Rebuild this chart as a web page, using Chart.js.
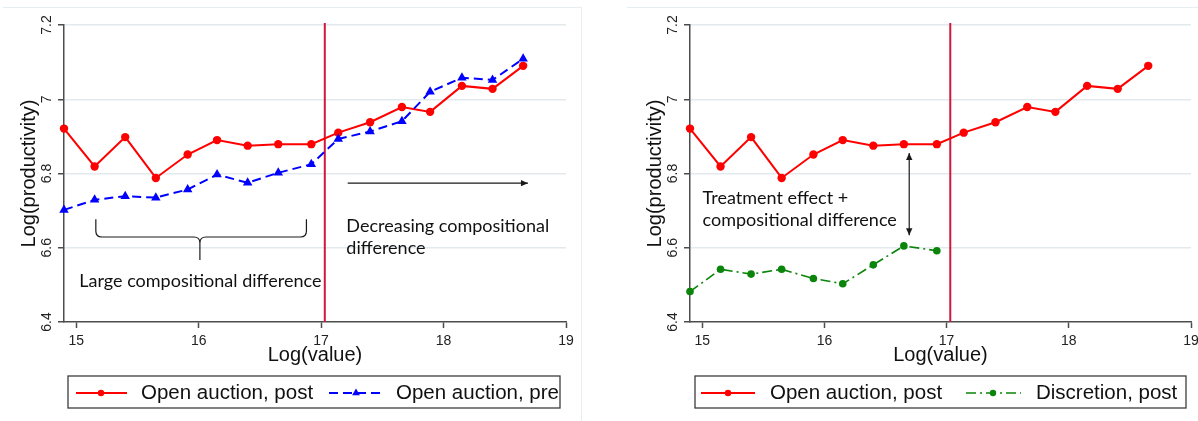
<!DOCTYPE html>
<html>
<head>
<meta charset="utf-8">
<script src="https://cdn.jsdelivr.net/npm/chart.js@4.4.1/dist/chart.umd.min.js"></script>
<style>
  html, body { margin: 0; padding: 0; background: #fff; overflow: hidden; }
  #wrap { position: relative; width: 1198px; height: 421px; }
  canvas { position: absolute; top: 0; }
  #leftChart { left: 0; }
  #rightChart { left: 626px; }
  .frame { position: absolute; border: 0 solid #e6eef1; }
</style>
</head>
<body>
<div id="wrap">
  <div class="frame" style="left:3px;top:7px;width:578px;height:414px;border-top-width:1px;border-right-width:1px"></div>
  <div class="frame" style="left:627px;top:7px;width:571px;height:0;border-top-width:1px"></div>
  <canvas id="leftChart" width="600" height="421"></canvas>
  <canvas id="rightChart" width="572" height="421"></canvas>
</div>
<script>
// Bin midpoints on the Log(value) axis
const binCenters = [14.90, 15.15, 15.40, 15.65, 15.91, 16.15, 16.40, 16.65, 16.92,
                    17.14, 17.40, 17.66, 17.89, 18.15, 18.40, 18.65];
// Mean Log(productivity) per bin
const openAuctionPost = [6.921, 6.819, 6.898, 6.788, 6.851, 6.890, 6.875, 6.879, 6.879,
                         6.910, 6.938, 6.979, 6.966, 7.036, 7.028, 7.090];
const openAuctionPre  = [6.702, 6.729, 6.739, 6.735, 6.757, 6.797, 6.775, 6.802, 6.825,
                         6.893, 6.913, 6.941, 7.020, 7.058, 7.052, 7.109];
const discretionPost  = [6.482, 6.542, 6.529, 6.542, 6.517, 6.503, 6.554, 6.605, 6.592];

const xTicks = [15, 16, 17, 18, 19];
const xTickLabels = ['15', '16', '17', '18', '19'];
const yTicks = [6.4, 6.6, 6.8, 7, 7.2];
const yTickLabels = ['6.4', '6.6', '6.8', '7', '7.2'];
const thresholdLine = [17.03];

const FONT = "'Liberation Sans', Arial, sans-serif";
const NOTE_FONT = "Lato, 'Open Sans', sans-serif";
const AXIS = '#4d4d4d';

Chart.defaults.font.family = FONT;
Chart.defaults.color = '#222';

function points(ys) {
  return ys.map((y, i) => ({ x: binCenters[i], y }));
}

const styles = {
  post: { label: 'Open auction, post', borderColor: '#ff0000', backgroundColor: '#ff0000',
          borderWidth: 2, pointStyle: 'circle', pointRadius: 4.2, pointBorderWidth: 0, borderDash: [] },
  pre:  { label: 'Open auction, pre', borderColor: '#0000ff', backgroundColor: '#0000ff',
          borderWidth: 2, pointStyle: 'triangle', pointRadius: 5.5, pointBorderWidth: 0, borderDash: [9, 5] },
  disc: { label: 'Discretion, post', borderColor: '#0a840a', backgroundColor: '#0a840a',
          borderWidth: 1.6, pointStyle: 'circle', pointRadius: 3.8, pointBorderWidth: 0, borderDash: [10, 4, 2, 4] }
};

function dataset(style, ys, order) {
  return Object.assign({}, style, {
    data: points(ys), order, tension: 0, fill: false, clip: false,
    pointHoverRadius: style.pointRadius
  });
}

function makeScales() {
  return {
    x: {
      type: 'linear', min: 14.9, max: 19,
      afterBuildTicks: s => { s.ticks = xTicks.map(v => ({ value: v })); },
      ticks: {
        autoSkip: false, maxRotation: 0, minRotation: 0, padding: 5,
        font: { size: 14 }, color: '#222',
        callback: v => xTickLabels[xTicks.indexOf(v)]
      },
      grid: { drawOnChartArea: false, drawTicks: true, tickLength: 6, tickColor: AXIS, tickWidth: 1.5 },
      border: { display: true, color: AXIS, width: 1.5 },
      title: { display: true, text: 'Log(value)', font: { size: 20 }, color: '#111',
               padding: { top: 0, bottom: 54 } },
      afterFit: s => { s.height = 99; s.paddingLeft = 0; s.paddingRight = 0; }
    },
    y: {
      type: 'linear', min: 6.4, max: 7.2,
      afterBuildTicks: s => { s.ticks = yTicks.map(v => ({ value: v })); },
      ticks: {
        autoSkip: false, minRotation: 90, maxRotation: 90, crossAlign: 'center', padding: 1.5,
        font: { size: 14 }, color: '#222',
        callback: v => yTickLabels[yTicks.indexOf(v)]
      },
      grid: {
        color: c => (c.tick && c.tick.value === yTicks[0]) ? 'rgba(0,0,0,0)' : '#e3eaed',
        lineWidth: 1.5, drawTicks: true, tickLength: 6, tickColor: AXIS, tickWidth: 1.5
      },
      border: { display: true, color: AXIS, width: 1.5 },
      title: { display: true, text: 'Log(productivity)', font: { size: 20 }, color: '#111',
               padding: { top: 17, bottom: 0 } },
      afterFit: s => { s.width = 64; s.paddingTop = 0; s.paddingBottom = 0; }
    }
  };
}

function arrowHead(ctx, x, y, angle) {
  const len = 7, half = 3.2;
  ctx.save();
  ctx.translate(x, y);
  ctx.rotate(angle);
  ctx.beginPath();
  ctx.moveTo(0, 0);
  ctx.lineTo(-len, -half);
  ctx.lineTo(-len, half);
  ctx.closePath();
  ctx.fill();
  ctx.restore();
}

// Draws the cutoff line, notes, braces, arrows and the boxed legend
const decorPlugin = {
  id: 'decor',
  beforeDatasetsDraw(chart, args, opts) {
    const { ctx, chartArea, scales } = chart;
    const px = scales.x.getPixelForValue(opts.vline);
    ctx.save();
    ctx.strokeStyle = '#d0183f';
    ctx.lineWidth = 2;
    ctx.beginPath();
    ctx.moveTo(px, chartArea.top - 2);
    ctx.lineTo(px, chartArea.bottom);
    ctx.stroke();
    ctx.restore();
  },
  afterDatasetsDraw(chart, args, opts) {
    const { ctx, scales } = chart;
    const X = v => scales.x.getPixelForValue(v);
    const Y = v => scales.y.getPixelForValue(v);
    ctx.save();
    ctx.strokeStyle = '#1a1a1a';
    ctx.fillStyle = '#1a1a1a';
    ctx.lineWidth = 1.2;

    (opts.braces || []).forEach(b => {
      const xl = X(b.x1), xr = X(b.x2), xc = X(b.xc);
      const yt = Y(b.yTop), ym = Y(b.yMid), yb = Y(b.yTip);
      const k = 6;
      ctx.beginPath();
      ctx.moveTo(xl, yt);
      ctx.lineTo(xl, ym - k);
      ctx.quadraticCurveTo(xl, ym, xl + k, ym);
      ctx.lineTo(xc - k, ym);
      ctx.quadraticCurveTo(xc, ym, xc, ym + k);
      ctx.lineTo(xc, yb);
      ctx.moveTo(xc, ym + k);
      ctx.quadraticCurveTo(xc, ym, xc + k, ym);
      ctx.lineTo(xr - k, ym);
      ctx.quadraticCurveTo(xr, ym, xr, ym - k);
      ctx.lineTo(xr, yt);
      ctx.stroke();
    });

    (opts.arrows || []).forEach(a => {
      const x1 = X(a.x1), y1 = Y(a.y1), x2 = X(a.x2), y2 = Y(a.y2);
      const ang = Math.atan2(y2 - y1, x2 - x1);
      ctx.beginPath();
      ctx.moveTo(x1, y1);
      ctx.lineTo(x2, y2);
      ctx.stroke();
      arrowHead(ctx, x2, y2, ang);
      if (a.both) arrowHead(ctx, x1, y1, ang + Math.PI);
    });

    ctx.font = opts.noteFont;
    ctx.textBaseline = 'alphabetic';
    ctx.textAlign = 'left';
    ctx.fillStyle = '#111';
    (opts.notes || []).forEach(n => {
      n.lines.forEach((line, i) => ctx.fillText(line, X(n.x), Y(n.y) + i * n.gap));
    });
    ctx.restore();
  },
  afterDraw(chart, args, opts) {
    const lg = opts.legend;
    if (!lg) return;
    const { ctx } = chart;
    const [bx0, by0, bx1, by1] = lg.box;
    const cy = (by0 + by1) / 2 + 1;
    ctx.save();
    ctx.fillStyle = '#fff';
    ctx.fillRect(bx0, by0, bx1 - bx0, by1 - by0);
    ctx.strokeStyle = '#3c3c3c';
    ctx.lineWidth = 1.3;
    ctx.strokeRect(bx0, by0, bx1 - bx0, by1 - by0);
    lg.items.forEach(it => {
      const ds = chart.data.datasets[it.ds];
      ctx.save();
      ctx.strokeStyle = ds.borderColor;
      ctx.fillStyle = ds.backgroundColor;
      ctx.lineWidth = ds.borderWidth;
      ctx.setLineDash(ds.borderDash || []);
      ctx.beginPath();
      ctx.moveTo(it.x0, cy);
      ctx.lineTo(it.x1, cy);
      ctx.stroke();
      ctx.setLineDash([]);
      Chart.helpers.drawPoint(ctx, {
        pointStyle: ds.pointStyle, rotation: 0,
        radius: ds.pointStyle === 'triangle' ? 4.5 : 3.2, borderWidth: 0
      }, it.mx, cy);
      ctx.restore();
      ctx.fillStyle = '#111';
      ctx.font = '20.5px ' + FONT;
      ctx.textBaseline = 'middle';
      ctx.fillText(ds.label, it.tx, cy);
    });
    ctx.restore();
  }
};

function buildChart(id, datasets, decor, padRight) {
  return new Chart(document.getElementById(id), {
    type: 'line',
    data: { datasets },
    options: {
      responsive: false, animation: false, events: [],
      layout: { padding: { top: 25, left: 0, right: padRight, bottom: 0 } },
      scales: makeScales(),
      plugins: { legend: { display: false }, tooltip: { enabled: false }, decor }
    },
    plugins: [decorPlugin]
  });
}

buildChart('leftChart', [
  dataset(styles.post, openAuctionPost, 1),
  dataset(styles.pre, openAuctionPre, 0)
], {
  vline: thresholdLine[0],
  noteFont: '18px ' + NOTE_FONT,
  braces: [{ x1: 15.16, x2: 16.88, xc: 16.01, yTop: 6.677, yMid: 6.629, yTip: 6.567 }],
  arrows: [{ x1: 17.217, y1: 6.774, x2: 18.689, y2: 6.774 }],
  notes: [
    { x: 15.025, y: 6.495, gap: 22, lines: ['Large compositional difference'] },
    { x: 17.206, y: 6.643, gap: 22, lines: ['Decreasing compositional', 'difference'] }
  ],
  legend: {
    box: [68, 376, 560, 408],
    items: [
      { ds: 0, x0: 76, x1: 127, mx: 101, tx: 141 },
      { ds: 1, x0: 329, x1: 380, mx: 356, tx: 396 }
    ]
  }
}, 34);

buildChart('rightChart', [
  dataset(styles.post, openAuctionPost, 1),
  dataset(styles.disc, discretionPost, 0)
], {
  vline: thresholdLine[0],
  noteFont: '18px ' + NOTE_FONT,
  arrows: [{ x1: 16.694, y1: 6.855, x2: 16.694, y2: 6.634, both: true }],
  notes: [
    { x: 15.003, y: 6.718, gap: 22.5, lines: ['Treatment effect +', 'compositional difference'] }
  ],
  legend: {
    box: [69, 376, 560, 408],
    items: [
      { ds: 0, x0: 75, x1: 129, mx: 102, tx: 144 },
      { ds: 1, x0: 340, x1: 395, mx: 367, tx: 410 }
    ]
  }
}, 7);
</script>
</body>
</html>
